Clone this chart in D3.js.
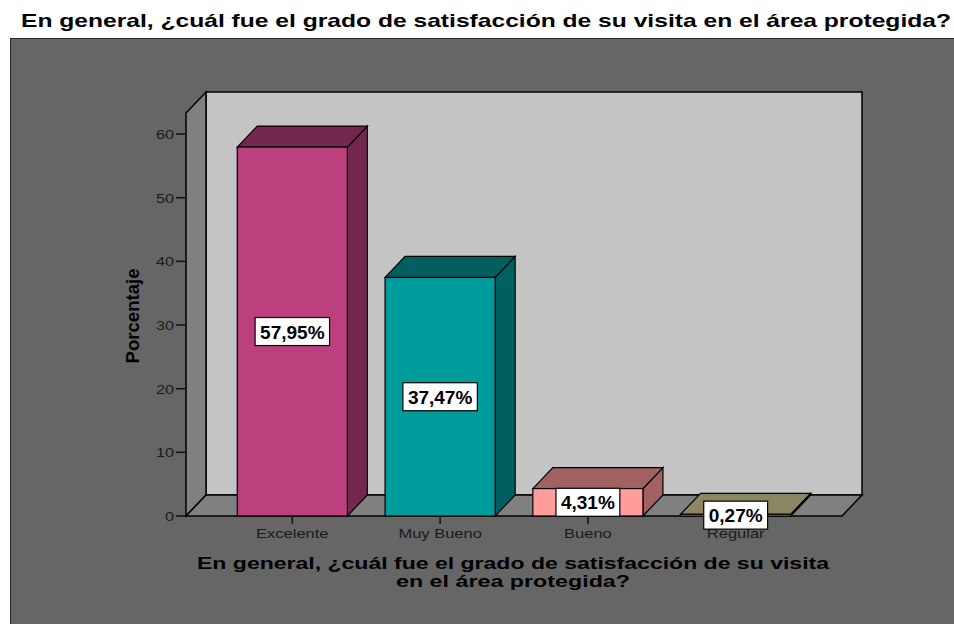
<!DOCTYPE html>
<html>
<head>
<meta charset="utf-8">
<script src="https://cdn.jsdelivr.net/npm/d3@7"></script>
<style>
  html, body { margin: 0; padding: 0; background: #ffffff; }
  svg { display: block; font-family: Arial, "Liberation Sans", sans-serif; }
</style>
</head>
<body>
<svg id="chart" width="954" height="624"></svg>
<script>
// Survey answers: overall satisfaction with the visit (percent of respondents)
const categories = ["Excelente", "Muy Bueno", "Bueno", "Regular"];
const percentages = [57.95, 37.47, 4.31, 0.27];
const valueLabels = ["57,95%", "37,47%", "4,31%", "0,27%"];
const yTicks = [0, 10, 20, 30, 40, 50, 60];
const frontColors = ["#bc407e", "#009b9b", "#ff9c9c", "#c6c28c"];
const sideColors = ["#73274f", "#005f5f", "#a36262", "#8a8762"];

const titleText = "En general, ¿cuál fue el grado de satisfacción de su visita en el área protegida?";
const xTitleLines = ["En general, ¿cuál fue el grado de satisfacción de su visita", "en el área protegida?"];
const yTitle = "Porcentaje";

const svg = d3.select("#chart");

// 3D depth offset of the plot box
const dx = 20, dy = -21;
const x0 = 186, x1 = 842;

const y = d3.scaleLinear().domain([0, 63.3]).range([516, 113]);
const x = d3.scaleBand().domain(categories).range([x0, x1])
  .paddingInner(0.255).paddingOuter(0.347);

// Chart title
svg.append("text")
  .attr("x", 21).attr("y", 27)
  .attr("font-size", 19).attr("font-weight", "bold").attr("fill", "#000")
  .attr("textLength", 930).attr("lengthAdjust", "spacingAndGlyphs")
  .text(titleText);

// Outer grey panel
svg.append("rect")
  .attr("x", 10.5).attr("y", 38.5).attr("width", 960).attr("height", 600)
  .attr("fill", "#666666").attr("stroke", "#2a2a2a").attr("stroke-width", 1);

const yZero = y(0), yTop = y.domain()[1];

// Back wall
svg.append("rect")
  .attr("x", x0 + dx).attr("y", y(yTop) + dy)
  .attr("width", x1 - x0).attr("height", yZero - y(yTop))
  .attr("fill", "#c4c4c4").attr("stroke", "#000").attr("stroke-width", 1.5);

// Left wall
svg.append("polygon")
  .attr("points", [[x0, yZero], [x0 + dx, yZero + dy], [x0 + dx, y(yTop) + dy], [x0, y(yTop)]].join(" "))
  .attr("fill", "#808080").attr("stroke", "#000").attr("stroke-width", 1.5);

// Floor
svg.append("polygon")
  .attr("points", [[x0, yZero], [x1, yZero], [x1 + dx, yZero + dy], [x0 + dx, yZero + dy]].join(" "))
  .attr("fill", "#808080").attr("stroke", "#000").attr("stroke-width", 1.5);

// Y axis ticks and labels
const yAxis = svg.append("g");
yAxis.selectAll("line.tick").data(yTicks).join("line")
  .attr("x1", x0 - 10).attr("x2", x0)
  .attr("y1", d => y(d)).attr("y2", d => y(d))
  .attr("stroke", "#111").attr("stroke-width", 1.5);
yAxis.selectAll("text").data(yTicks).join("text")
  .attr("transform", d => `translate(${x0 - 12},${y(d) + 5}) scale(1.25,1)`)
  .attr("text-anchor", "end").attr("font-size", 13).attr("fill", "#1a1a1a")
  .text(d => d);

// Y axis title
svg.append("text")
  .attr("transform", `translate(139,316) rotate(-90)`)
  .attr("text-anchor", "middle").attr("font-size", 18).attr("font-weight", "bold")
  .attr("fill", "#000")
  .attr("textLength", 95).attr("lengthAdjust", "spacingAndGlyphs")
  .text(yTitle);

// X axis ticks and category labels
const xAxis = svg.append("g");
xAxis.selectAll("line").data(categories).join("line")
  .attr("x1", d => x(d) + x.bandwidth() / 2).attr("x2", d => x(d) + x.bandwidth() / 2)
  .attr("y1", yZero).attr("y2", yZero + 8)
  .attr("stroke", "#111").attr("stroke-width", 1.5);
xAxis.selectAll("text").data(categories).join("text")
  .attr("transform", d => `translate(${x(d) + x.bandwidth() / 2},538) scale(1.27,1)`)
  .attr("text-anchor", "middle").attr("font-size", 13).attr("fill", "#1a1a1a")
  .text(d => d);

// X axis title (two lines)
const xTitleWidths = [632, 234];
svg.append("g").selectAll("text").data(xTitleLines).join("text")
  .attr("x", 513).attr("y", (d, i) => 569 + i * 18)
  .attr("text-anchor", "middle").attr("font-size", 16).attr("font-weight", "bold")
  .attr("fill", "#000")
  .attr("textLength", (d, i) => xTitleWidths[i]).attr("lengthAdjust", "spacingAndGlyphs")
  .text(d => d);

// 3D bars
const bars = svg.append("g").selectAll("g").data(percentages).join("g");
bars.each(function (v, i) {
  const g = d3.select(this);
  const bx = x(categories[i]), bw = x.bandwidth();
  const top = y(v);
  // side face
  g.append("polygon")
    .attr("points", [[bx + bw, yZero], [bx + bw + dx, yZero + dy], [bx + bw + dx, top + dy], [bx + bw, top]].join(" "))
    .attr("fill", sideColors[i]).attr("stroke", "#000").attr("stroke-width", 1.2);
  // top face
  g.append("polygon")
    .attr("points", [[bx, top], [bx + dx, top + dy], [bx + bw + dx, top + dy], [bx + bw, top]].join(" "))
    .attr("fill", sideColors[i]).attr("stroke", "#000").attr("stroke-width", 1.2);
  // front face
  g.append("rect")
    .attr("x", bx).attr("y", top).attr("width", bw).attr("height", yZero - top)
    .attr("fill", frontColors[i]).attr("stroke", "#000").attr("stroke-width", 1.2);
});

// Value labels in white boxes, centred on each bar's front face
const labels = svg.append("g").selectAll("g").data(percentages).join("g")
  .attr("transform", (v, i) => `translate(${x(categories[i]) + x.bandwidth() / 2},${(y(v) + yZero) / 2})`);
labels.each(function (v, i) {
  const g = d3.select(this);
  const t = g.append("text")
    .attr("text-anchor", "middle").attr("y", 7)
    .attr("font-size", 19).attr("font-weight", "bold").attr("fill", "#000")
    .text(valueLabels[i]);
  const w = t.node().getComputedTextLength() + 10;
  g.insert("rect", "text")
    .attr("x", -w / 2).attr("y", -14).attr("width", w).attr("height", 28)
    .attr("fill", "#fff").attr("stroke", "#000").attr("stroke-width", 1.2);
});
</script>
</body>
</html>
